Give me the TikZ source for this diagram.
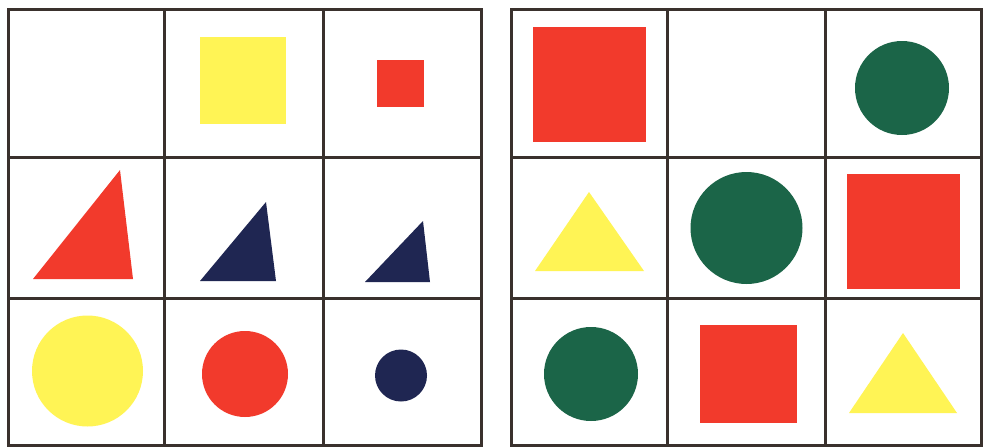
\documentclass[tikz,border=0pt]{standalone}
\usepackage{tikz}
\definecolor{amarilloFig}{HTML}{FFF455}
\definecolor{rojoFig}{HTML}{F23A2C}
\definecolor{azulFig}{HTML}{1F2652}
\definecolor{verdeFig}{HTML}{1B6548}
\definecolor{lineaGrid}{HTML}{3A312D}

\begin{document}
\begin{tikzpicture}[x=1pt, y=-1pt,
        rejilla/.style={draw=lineaGrid, line width=3pt},
        amarillo/.style={fill=amarilloFig},
        rojo/.style={fill=rojoFig},
        azul/.style={fill=azulFig},
        verde/.style={fill=verdeFig}
    ]
        \useasboundingbox[fill=white] (0,0) rectangle (983,447);

        % rejilla izquierda
        \draw[rejilla] (8,9) rectangle (481,445);
        \draw[rejilla] (164,9) -- (164,445) (323,9) -- (323,445);
        \draw[rejilla] (8,157) -- (481,157) (8,298) -- (481,298);

        % rejilla derecha
        \draw[rejilla] (511,9) rectangle (981,445);
        \draw[rejilla] (667,9) -- (667,445) (825,9) -- (825,445);
        \draw[rejilla] (511,157) -- (981,157) (511,298) -- (981,298);

        % figuras izquierda
        \fill[amarillo] (200,37) rectangle (286,124);
        \fill[rojo] (377,60) rectangle (424,107);
        \fill[rojo] (33,279) -- (120,170) -- (133,279) -- cycle;
        \fill[azul] (200,281) -- (266,202) -- (276,281) -- cycle;
        \fill[azul] (365,282) -- (423,221) -- (430,282) -- cycle;
        \fill[amarillo] (87.5,371) circle (55.5);
        \fill[rojo] (245,374) circle (43);
        \fill[azul] (401,375.5) circle (26);

        % figuras derecha
        \fill[rojo] (533,27) rectangle (646,142);
        \fill[verde] (902,88) circle (47);
        \fill[amarillo] (535,271) -- (589,192) -- (644,271) -- cycle;
        \fill[verde] (746.5,228) circle (56);
        \fill[rojo] (847,174) rectangle (960,289);
        \fill[verde] (591,374) circle (47);
        \fill[rojo] (700,325) rectangle (797,423);
        \fill[amarillo] (849,413) -- (903,333) -- (957,413) -- cycle;
    \end{tikzpicture}
\end{document}
